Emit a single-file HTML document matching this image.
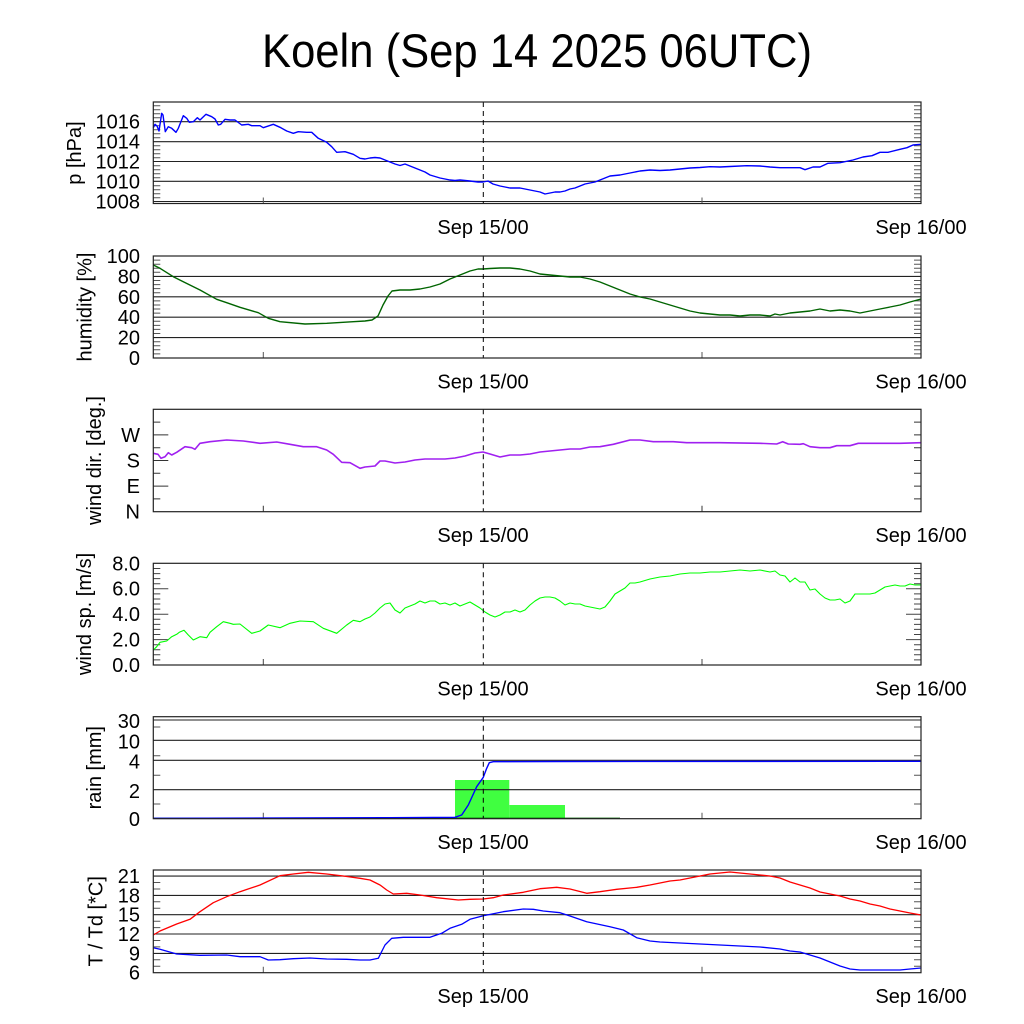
<!DOCTYPE html>
<html><head><meta charset="utf-8"><style>
html,body{margin:0;padding:0;background:#fff;}
svg{display:block;font-family:"Liberation Sans",Arial,sans-serif;}
</style></head><body>
<svg width="1024" height="1024" viewBox="0 0 1024 1024" xmlns="http://www.w3.org/2000/svg">
<rect width="1024" height="1024" fill="#fff"/>
<text x="537" y="67" font-size="47" text-anchor="middle" textLength="550" lengthAdjust="spacingAndGlyphs">Koeln (Sep 14 2025 06UTC)</text>

<g font-size="20" fill="#000">
<!-- ================= Panel 1: pressure ================= -->
<g stroke="#222" stroke-width="1.1" fill="none">
<path d="M153.3 121.7H921M153.3 141.7H921M153.3 161.5H921M153.3 181.3H921M153.3 201.5H921"/>
</g>
<g stroke="#555" stroke-width="1">
<path d="M153.3 197.7h7M153.3 193.7h7M153.3 189.7h7M153.3 185.7h7M153.3 177.7h7M153.3 173.7h7M153.3 169.7h7M153.3 165.7h7M153.3 157.7h7M153.3 153.7h7M153.3 149.7h7M153.3 145.7h7M153.3 137.7h7M153.3 133.7h7M153.3 129.7h7M153.3 125.7h7M153.3 117.7h7M153.3 113.7h7M153.3 109.7h7M153.3 105.7h7"/>
<path d="M921 197.7h-7M921 193.7h-7M921 189.7h-7M921 185.7h-7M921 177.7h-7M921 173.7h-7M921 169.7h-7M921 165.7h-7M921 157.7h-7M921 153.7h-7M921 149.7h-7M921 145.7h-7M921 137.7h-7M921 133.7h-7M921 129.7h-7M921 125.7h-7M921 117.7h-7M921 113.7h-7M921 109.7h-7M921 105.7h-7"/>
<path d="M263.3 203.5v-6M702 203.5v-6"/>
</g>
<polyline fill="none" stroke="#0000ff" stroke-width="1.4" stroke-linejoin="round" points="153.3,127.7 155,124.3 157,126 159,131 161.7,113.3 163,115 165.3,131.7 168.3,126.7 171.7,128.3 176,132.3 178.3,128.3 183.3,115.7 186.7,118.3 189.3,122.3 193.3,121.7 197.3,117.7 200,120 206,114.3 211.7,116.7 215,119 218.3,125 220.7,124.3 225,119.3 230,120 235,120 241.7,125 248.3,124.3 251.7,125.7 260,125.7 263.3,127.7 273.3,124.3 280,127.3 286.7,131 293.3,133.3 298.3,131.7 306.7,132.3 311.7,132.3 318.3,138.3 326.7,142.3 331.7,146.7 336.7,152.3 345,151.7 353.3,154.3 360,158.3 365,159 370,158 375,157.5 380,158 385,160 390,162 395,164 400,165.5 405,164 410,166 415,168 420,170 425,172 430,175 435,176.5 440,178 445,179 450,180 455,180.5 460,180 470,181 478,182 483,182 488,181 493,184 500,186 505,187 510,188 520,188 525,189 530,190 535,191 540,192 545,194 550,193 555,192 560,192 565,191 570,189 575,188 580,186 585,184 590,183 595,182 600,180 605,178 610,176 620,175 630,173 640,171 650,170 660,170.5 670,170 680,169 690,168 700,167.5 710,166.7 720,167 730,166.5 746.7,165.7 760,166 770,167 780,167.7 800,167.7 805,169.7 813,167 820,167 828,163.3 840,162.7 853,160 863,157 872,155.7 880,152.3 888,152.3 900,149.3 907,147.7 913,145 921,144.3"/>
<path d="M483.3 102V203.5" stroke="#000" stroke-width="1" stroke-dasharray="5,4"/>
<rect x="153.3" y="102" width="767.7" height="101.5" fill="none" stroke="#222" stroke-width="1.2"/>
<g text-anchor="end">
<text x="140" y="128.7">1016</text><text x="140" y="148.7">1014</text><text x="140" y="168.5">1012</text><text x="140" y="188.3">1010</text><text x="140" y="208.5">1008</text>
</g>
<text transform="translate(81,153) rotate(-90)" text-anchor="middle">p [hPa]</text>
<text x="483" y="234" text-anchor="middle">Sep 15/00</text>
<text x="921" y="234" text-anchor="middle">Sep 16/00</text>

<!-- ================= Panel 2: humidity ================= -->
<g stroke="#222" stroke-width="1.1" fill="none">
<path d="M153.3 276.4H921M153.3 296.8H921M153.3 317.2H921M153.3 337.6H921"/>
</g>
<g stroke="#555" stroke-width="1">
<path d="M153.3 353.9h7M153.3 349.8h7M153.3 345.8h7M153.3 341.7h7M153.3 333.5h7M153.3 329.4h7M153.3 325.4h7M153.3 321.3h7M153.3 313.1h7M153.3 309h7M153.3 305h7M153.3 300.9h7M153.3 292.7h7M153.3 288.6h7M153.3 284.6h7M153.3 280.5h7M153.3 272.3h7M153.3 268.2h7M153.3 264.2h7M153.3 260.1h7"/>
<path d="M921 353.9h-7M921 349.8h-7M921 345.8h-7M921 341.7h-7M921 333.5h-7M921 329.4h-7M921 325.4h-7M921 321.3h-7M921 313.1h-7M921 309h-7M921 305h-7M921 300.9h-7M921 292.7h-7M921 288.6h-7M921 284.6h-7M921 280.5h-7M921 272.3h-7M921 268.2h-7M921 264.2h-7M921 260.1h-7"/>
<path d="M263.3 358v-6M702 358v-6"/>
</g>
<polyline fill="none" stroke="#006400" stroke-width="1.4" stroke-linejoin="round" points="153.3,265 160,268.3 173.3,276.7 183.3,281.7 200,290 216.7,299.3 226.7,302.7 240,307.3 258.3,312.7 268.3,318.3 280,321.7 305,324 326.7,323.3 353.3,321.7 365,321 372,320 378,316 383,305 388,296 392,291 400,290 410,290 420,289 430,287 440,284 450,279 460,275 470,271 478,269 483,269 490,268.5 500,268 510,268 520,269 530,271 540,274 550,275 560,276 570,277 580,277 590,279 600,282 610,286 620,290 630,294 640,297 650,299 660,302 670,305 680,308 690,311 700,313 710,314 720,315 730,315 740,316 750,315 760,315 770,316 775,314 780,315 790,313 800,312 810,311 820,309 830,311 840,310 850,311 860,313 870,311 880,309 890,307 900,305 910,302 921,299"/>
<path d="M483.3 256V358" stroke="#000" stroke-width="1" stroke-dasharray="5,4"/>
<rect x="153.3" y="256" width="767.7" height="102" fill="none" stroke="#222" stroke-width="1.2"/>
<g text-anchor="end">
<text x="140" y="263">100</text><text x="140" y="283.4">80</text><text x="140" y="303.8">60</text><text x="140" y="324.2">40</text><text x="140" y="344.6">20</text><text x="140" y="365">0</text>
</g>
<text transform="translate(91.5,307) rotate(-90)" text-anchor="middle">humidity [%]</text>
<text x="483" y="388.5" text-anchor="middle">Sep 15/00</text>
<text x="921" y="388.5" text-anchor="middle">Sep 16/00</text>

<!-- ================= Panel 3: wind dir ================= -->
<g stroke="#333" stroke-width="1">
<path d="M153.3 434.9h15M153.3 460.5h15M153.3 486.1h15M153.3 422.1h7M153.3 447.7h7M153.3 473.3h7M153.3 498.9h7"/>
<path d="M921 422.1h-7M921 434.9h-7M921 447.7h-7M921 460.5h-7M921 473.3h-7M921 486.1h-7M921 498.9h-7"/>
<path d="M263.3 511.7v-6M702 511.7v-6"/>
</g>
<polyline fill="none" stroke="#a020f0" stroke-width="1.6" stroke-linejoin="round" points="153.3,453.3 158,454.3 161,458.3 165,456.7 168.3,452.7 171.7,455 176.7,452.3 185,446.7 191.7,447.7 195,449.3 200,443.3 210,441.7 226.7,440 243.3,441 260,443.3 276.7,442 290,444.3 303.3,446.7 316.7,446.7 326.7,450 333.3,454.3 341.7,462.3 350,462.7 360,468.3 365,467 375,466 380,461 385,461 395,463 405,462 415,460 425,459 445,459 455,458 465,456 475,453 483,452 490,454 500,457 510,455 520,455 530,454 540,452 550,451 560,450 570,449 580,449 590,447 600,446.7 613.3,444.3 630,440 640,440 653.3,441.7 673.3,441.7 686.7,442.7 720,442.7 760,443.3 776.7,444 782.7,441.7 788.3,444 800,444.3 803.3,443.7 810,446.7 820,447.7 830,447.7 836.7,445.7 850,445.7 858.3,443.3 876.7,443.3 900,443.3 921,442.7"/>
<path d="M483.3 409.3V511.7" stroke="#000" stroke-width="1" stroke-dasharray="5,4"/>
<rect x="153.3" y="409.3" width="767.7" height="102.4" fill="none" stroke="#222" stroke-width="1.2"/>
<g text-anchor="end">
<text x="140" y="441.9">W</text><text x="140" y="467.5">S</text><text x="140" y="493.1">E</text><text x="140" y="518.7">N</text>
</g>
<text transform="translate(101,460.5) rotate(-90)" text-anchor="middle">wind dir. [deg.]</text>
<text x="483" y="542" text-anchor="middle">Sep 15/00</text>
<text x="921" y="542" text-anchor="middle">Sep 16/00</text>

<!-- ================= Panel 4: wind speed ================= -->
<g stroke="#444" stroke-width="1">
<path d="M153.3 588.7h15M153.3 614.2h15M153.3 639.6h15"/>
<path d="M153.3 659.9h7M153.3 654.8h7M153.3 649.8h7M153.3 644.7h7M153.3 634.5h7M153.3 629.4h7M153.3 624.4h7M153.3 619.3h7M153.3 609.1h7M153.3 604h7M153.3 599h7M153.3 593.9h7M153.3 583.7h7M153.3 578.6h7M153.3 573.6h7M153.3 568.5h7"/>
<path d="M921 588.7h-15M921 614.2h-15M921 639.6h-15"/>
<path d="M921 659.9h-7M921 654.8h-7M921 649.8h-7M921 644.7h-7M921 634.5h-7M921 629.4h-7M921 624.4h-7M921 619.3h-7M921 609.1h-7M921 604h-7M921 599h-7M921 593.9h-7M921 583.7h-7M921 578.6h-7M921 573.6h-7M921 568.5h-7"/>
<path d="M263.3 665v-6M702 665v-6"/>
</g>
<polyline fill="none" stroke="#00ff00" stroke-width="1.1" stroke-linejoin="round" points="153.3,650 156.7,646.7 160,642.3 166.7,641 171.7,636.7 176.7,634.3 179.3,632.3 184,630.3 188.3,635 193.3,640 200,636.7 206.7,637.7 210,632.3 216.7,626.7 223.3,621.7 230,623.3 233.3,624.3 240,624 251.7,633.3 260,631 268.3,625 280,627.7 290,623.3 300,621 313.3,621.7 323.3,628.3 336.7,633.3 346.7,625 353.3,620.3 360,621.7 365,619 370,617 375,613 380,608 385,604 390,603 395,610 400,613 405,608 410,606 415,604 420,601 425,603 430,601 435,601 440,604 445,603 450,605 455,603 460,606 465,604 470,602 475,605 480,608 485,612 490,615 495,617 500,615 505,612 510,612 515,610 520,612 525,610 530,605 535,601 540,598 545,597 550,597 555,598 560,601 565,605 570,603 575,604 580,604 585,606 590,607 595,608 600,609 605,607 610,601 615,594 620,591 625,588 630,583 635,583 640,582 650,579 660,577 670,576 680,574 690,573 700,573 710,572 720,572 730,571 740,570 750,571 760,570 770,572 775,571 780,575 785,576 790,582 795,578 800,582 805,582 810,590 815,589 820,594 825,598 830,600 835,600 840,599 845,603 850,601 855,594 860,594 870,594 875,593 880,590 885,587 890,586 895,585 900,586 905,586 910,584 915,585 921,585"/>
<path d="M483.3 563.3V665" stroke="#000" stroke-width="1" stroke-dasharray="5,4"/>
<rect x="153.3" y="563.3" width="767.7" height="101.7" fill="none" stroke="#222" stroke-width="1.2"/>
<g text-anchor="end">
<text x="140" y="570.3">8.0</text><text x="140" y="595.7">6.0</text><text x="140" y="621.2">4.0</text><text x="140" y="646.6">2.0</text><text x="140" y="672">0.0</text>
</g>
<text transform="translate(91,614) rotate(-90)" text-anchor="middle">wind sp. [m/s]</text>
<text x="483" y="695.5" text-anchor="middle">Sep 15/00</text>
<text x="921" y="695.5" text-anchor="middle">Sep 16/00</text>

<!-- ================= Panel 5: rain ================= -->
<rect x="455" y="780" width="54.3" height="38.7" fill="#40ff40"/>
<rect x="509.3" y="805" width="55.7" height="13.7" fill="#40ff40"/>
<g stroke="#222" stroke-width="1.1" fill="none">
<path d="M153.3 720H921M153.3 740.3H921M153.3 760.3H921M153.3 789.7H921"/>
</g>
<g stroke="#555" stroke-width="1">
<path d="M153.3 727h7M153.3 755.7h7M153.3 775.3h7M153.3 804h7"/>
<path d="M921 727h-7M921 755.7h-7M921 775.3h-7M921 804h-7"/>
<path d="M263.3 818.7v-6M702 818.7v-6"/>
</g>
<path d="M153.3 818.2H620" stroke="#006400" stroke-width="1.2"/>
<polyline fill="none" stroke="#0000ff" stroke-width="1.4" stroke-linejoin="round" points="153.3,818.3 390,817.7 455,817.3 461.7,815 468.3,805 476.7,786.7 483.3,777.3 486.7,768.3 489.3,762.7 493.3,761.7 556.7,761.5 921,761.3"/>
<path d="M483.3 716.7V818.7" stroke="#000" stroke-width="1" stroke-dasharray="5,4"/>
<rect x="153.3" y="716.7" width="767.7" height="102" fill="none" stroke="#222" stroke-width="1.2"/>
<g text-anchor="end">
<text x="140" y="728">30</text><text x="140" y="748.7">10</text><text x="140" y="768.3">4</text><text x="140" y="798">2</text><text x="140" y="826">0</text>
</g>
<text transform="translate(101,767.7) rotate(-90)" text-anchor="middle">rain [mm]</text>
<text x="483" y="849" text-anchor="middle">Sep 15/00</text>
<text x="921" y="849" text-anchor="middle">Sep 16/00</text>

<!-- ================= Panel 6: T / Td ================= -->
<g stroke="#222" stroke-width="1.1" fill="none">
<path d="M153.3 876.1H921M153.3 895.4H921M153.3 914.7H921M153.3 934H921M153.3 953.4H921"/>
</g>
<g stroke="#555" stroke-width="1">
<path d="M153.3 966.3h7M153.3 959.8h7M153.3 946.9h7M153.3 940.5h7M153.3 927.6h7M153.3 921.2h7M153.3 908.3h7M153.3 901.8h7M153.3 889h7M153.3 882.5h7"/>
<path d="M921 966.3h-7M921 959.8h-7M921 946.9h-7M921 940.5h-7M921 927.6h-7M921 921.2h-7M921 908.3h-7M921 901.8h-7M921 889h-7M921 882.5h-7"/>
<path d="M263.3 972.7v-6M702 972.7v-6"/>
</g>
<polyline fill="none" stroke="#ff0000" stroke-width="1.3" stroke-linejoin="round" points="153.3,935 160,931 176.7,924 190,919.3 200,911.7 213.3,902.7 226.7,896.7 240,891.7 260,885 280,875.7 293.3,874 308.3,872.3 326.7,874 343.3,876 360,878.3 370,880 380,885 386.7,890 393.3,894 406.7,893.3 420,895 436.7,897.7 458.3,900 470,899.3 483.3,899 493.3,897.7 503.3,895 523.3,892.3 540,888.7 556.7,887.3 570,889 586.7,893.3 600,891.7 616.7,889.3 636.7,887.3 650,885 660,883 670,881 680,880 690,878 700,876 710,874 720,873 730,872 740,873 750,874 760,875 770,876 780,878 790,882 800,885 810,888 820,892 830,894 840,896 850,899 860,901 870,904 880,906 890,909 900,911 910,913 921,915"/>
<polyline fill="none" stroke="#0000ff" stroke-width="1.3" stroke-linejoin="round" points="153.3,947.7 160,949.3 176.7,954 200,955.3 226.7,955 240,956.7 260,956.7 268.3,960 280,959.7 293.3,958.7 310,958 326.7,959 346.7,959.3 360,960 370,960 378.3,958.3 385,945 391.7,938.3 403.3,937.3 430,937.3 441.7,933.3 450,928.3 461.7,924.3 470,919.3 483.3,915.7 503.3,911.7 523.3,909 533.3,909.3 543.3,911 560,912.7 570,916 586.7,921.7 610,926.7 623.3,930 636.7,937.7 650,941 660,942 680,943 700,944 720,945 740,946 760,947 780,949 790,951 800,952 810,955 820,958 830,962 840,966 850,969 860,970 880,970 900,970 910,969 921,968"/>
<path d="M483.3 870V972.7" stroke="#000" stroke-width="1" stroke-dasharray="5,4"/>
<rect x="153.3" y="870" width="767.7" height="102.7" fill="none" stroke="#222" stroke-width="1.2"/>
<g text-anchor="end">
<text x="140" y="883.1">21</text><text x="140" y="902.4">18</text><text x="140" y="921.7">15</text><text x="140" y="941">12</text><text x="140" y="960.4">9</text><text x="140" y="979.7">6</text>
</g>
<text transform="translate(102.5,921.3) rotate(-90)" text-anchor="middle">T / Td [*C]</text>
<text x="483" y="1003" text-anchor="middle">Sep 15/00</text>
<text x="921" y="1003" text-anchor="middle">Sep 16/00</text>
</g>
</svg>
</body></html>
